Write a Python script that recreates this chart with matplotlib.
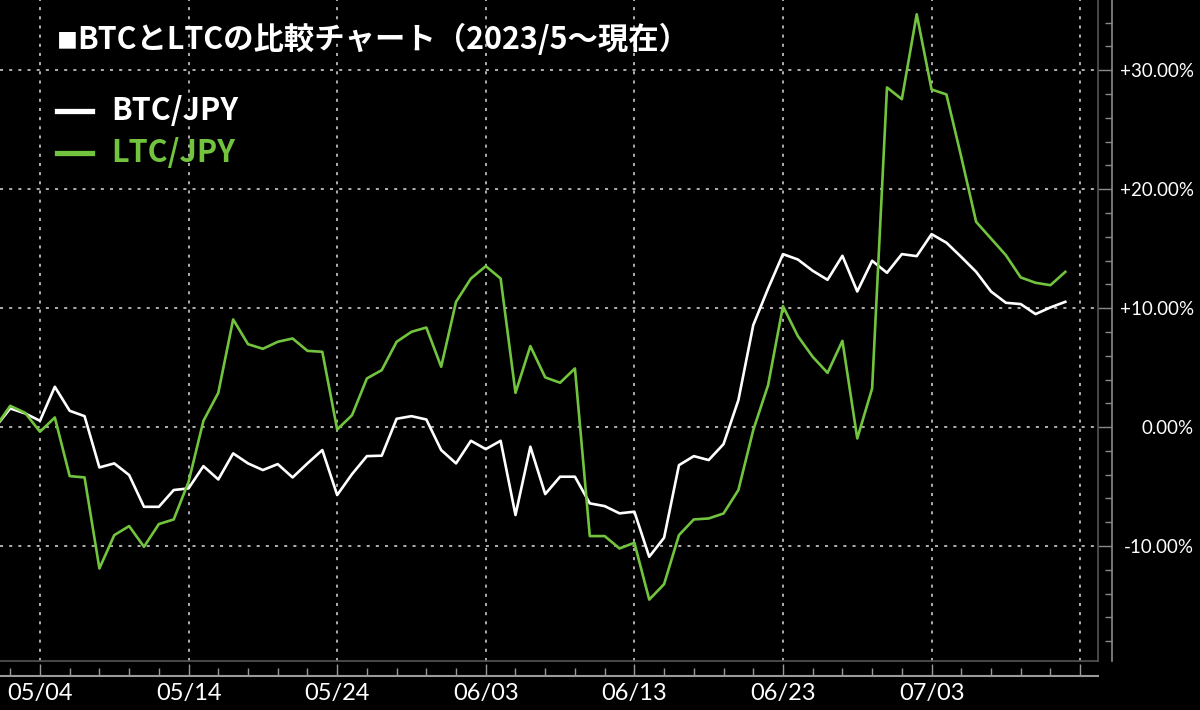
import pandas as pd
import matplotlib
matplotlib.use('Agg')
import matplotlib.pyplot as plt
import matplotlib.dates as mdates
from matplotlib.lines import Line2D
from matplotlib.ticker import MultipleLocator, FixedLocator, FuncFormatter

# 2023/05/01 ～ 2023/07/12 の日次騰落率(%)
dates = pd.date_range('2023-05-01', '2023-07-12', freq='D')
btc = [0.0, 1.57, 1.15, 0.53, 3.39, 1.37, 0.92, -3.39, -3.05, -4.03,
       -6.7, -6.7, -5.29, -5.15, -3.28, -4.4, -2.21, -3.05, -3.61, -3.11,
       -4.23, -3.05, -1.93, -5.71, -3.95, -2.44, -2.4, 0.7, 0.92, 0.64,
       -1.93, -3.05, -1.15, -1.85, -1.15, -7.39, -1.65, -5.63, -4.17, -4.17,
       -6.41, -6.64, -7.25, -7.11, -10.9, -9.3, -3.2, -2.44, -2.77, -1.43,
       2.27, 8.57, 11.65, 14.54, 14.09, 13.14, 12.38, 14.4, 11.4, 13.98,
       12.97, 14.54, 14.37, 16.22, 15.5, 14.3, 13.05, 11.4, 10.45, 10.34,
       9.5, 10.06, 10.53]
ltc = [0.0, 1.79, 1.2, -0.39, 0.81, -4.12, -4.23, -11.88, -9.08, -8.32,
       -10.06, -8.15, -7.76, -4.6, 0.53, 2.88, 9.05, 6.97, 6.58, 7.17,
       7.45, 6.41, 6.33, -0.2, 1.0, 4.09, 4.79, 7.17, 8.01, 8.37,
       5.07, 10.53, 12.49, 13.53, 12.49, 2.88, 6.81, 4.18, 3.73, 4.93,
       -9.16, -9.16, -10.2, -9.72, -14.5, -13.2, -9.08, -7.76, -7.68, -7.26,
       -5.29, -0.25, 3.53, 10.17, 7.65, 5.91, 4.56, 7.25, -0.95, 3.25,
       28.55, 27.56, 34.7, 28.38, 27.96, 22.7, 17.25, 15.85, 14.45, 12.58,
       12.13, 11.93, 13.05]

tick_dates = pd.to_datetime(['2023-05-04', '2023-05-14', '2023-05-24', '2023-06-03',
                             '2023-06-13', '2023-06-23', '2023-07-03', '2023-07-13'])
tick_labels = ['05/04', '05/14', '05/24', '06/03', '06/13', '06/23', '07/03', '']
minor_dates = pd.date_range('2023-05-02', '2023-07-14', freq='2D')

title = 'BTCとLTCの比較チャート（2023/5〜現在）'
names = ['BTC/JPY', 'LTC/JPY']
WHITE = '#ffffff'
GREEN = '#72c43e'
JP = ['Noto Sans CJK JP', 'DejaVu Sans']

fig = plt.figure(figsize=(12, 7.1), dpi=100, facecolor='black')
ax = fig.add_axes([0, 49 / 710, 1098 / 1200, 661 / 710])
ax.set_facecolor('black')

ax.plot(dates, btc, color=WHITE, lw=1.9, zorder=3)
ax.plot(dates, ltc, color=GREEN, lw=1.9, zorder=4)

x0 = mdates.date2num(dates[0])
ax.set_xlim(x0 + 0.31, x0 + 74.2)
ax.set_ylim(-19.66, 35.9)

# 軸
for s in ['top', 'left']:
    ax.spines[s].set_visible(False)
ax.spines['right'].set_position(('outward', 10))
ax.spines['bottom'].set_position(('outward', 11))
ax.spines['right'].set_color('#8a8a8a')
ax.spines['bottom'].set_color('#9a9a9a')
ax.spines['right'].set_linewidth(1.2)
ax.spines['bottom'].set_linewidth(1.5)
ax.plot([1, 1], [0, 1], transform=ax.transAxes, color='#555555', lw=1.2, clip_on=False)
ax.plot([0, 1], [0, 0], transform=ax.transAxes, color='#555555', lw=1.2, clip_on=False)

ax.yaxis.tick_right()
ax.yaxis.set_major_locator(MultipleLocator(10))
ax.yaxis.set_minor_locator(MultipleLocator(2))
ax.yaxis.set_major_formatter(FuncFormatter(
    lambda v, p: '0.00%' if abs(v) < 1e-9 else f'{v:+.2f}%'))

ax.xaxis.set_major_locator(FixedLocator(mdates.date2num(tick_dates)))
ax.set_xticklabels(tick_labels)
ax.xaxis.set_minor_locator(FixedLocator(mdates.date2num(minor_dates)))

ax.tick_params(axis='y', which='major', direction='in', length=10, width=1,
               color='#8a8a8a', labelcolor='white', labelsize=13.5, pad=59)
ax.tick_params(axis='y', which='minor', direction='in', length=5, width=1, color='#8a8a8a')
ax.tick_params(axis='x', which='major', direction='in', length=9, width=1,
               color='#9a9a9a', labelcolor='white', labelsize=17, pad=5)
ax.tick_params(axis='x', which='minor', direction='in', length=6, width=1, color='#9a9a9a')
for lab in ax.get_yticklabels():
    lab.set_family(['Lato', 'DejaVu Sans'])
    lab.set_horizontalalignment('right')
for lab in ax.get_xticklabels():
    lab.set_family(['Lato', 'DejaVu Sans'])

ax.grid(True, which='major', color='#dddddd', linestyle=(0, (2, 4)), linewidth=1.1)

# タイトルと凡例
fig.text(57 / 1200, 1 - 41 / 710, '■', color='white', fontsize=15,
         family=JP, va='center')
fig.text(77 / 1200, 1 - 40 / 710, title, color='white', fontsize=21.9,
         fontweight='bold', family=JP, va='center')
for i, (name, col) in enumerate(zip(names, [WHITE, GREEN])):
    yy = 110.7 + 42 * i
    fig.add_artist(Line2D([57 / 1200, 92 / 1200], [1 - yy / 710] * 2, color=col, lw=3.8,
                          transform=fig.transFigure))
    fig.text(111 / 1200, 1 - (yy + 9.5) / 710, name, color=col, fontsize=22,
             fontweight='bold', family=JP, va='baseline')

fig.savefig('out.png', dpi=100, facecolor='black')
